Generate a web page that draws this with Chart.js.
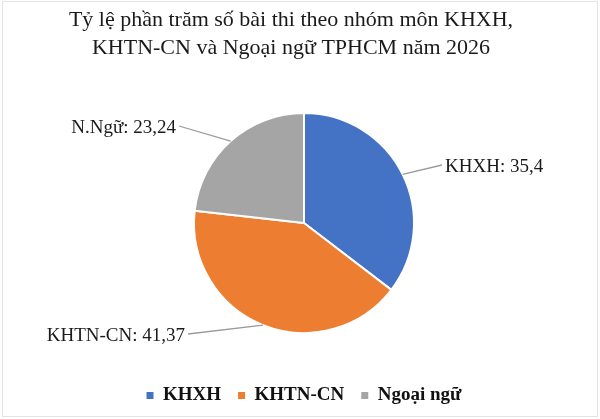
<!DOCTYPE html>
<html>
<head>
<meta charset="utf-8">
<script src="https://cdn.jsdelivr.net/npm/chart.js@4.4.1/dist/chart.umd.min.js"></script>
<style>
  html, body { margin: 0; padding: 0; background: #fff; }
  canvas { display: block; }
</style>
</head>
<body>
<canvas id="pieChart" width="600" height="419"></canvas>
<script>
// Dữ liệu biểu đồ
const titleLines = ['Tỷ lệ phần trăm số bài thi theo nhóm môn KHXH,', 'KHTN-CN và Ngoại ngữ TPHCM năm 2026'];
const categories = ['KHXH', 'KHTN-CN', 'Ngoại ngữ'];
const shortNames = ['KHXH', 'KHTN-CN', 'N.Ngữ'];
const values = [35.4, 41.37, 23.24];
const colors = ['#4472C4', '#ED7D31', '#A5A5A5'];

// vị trí nhãn so với tâm hình tròn (điểm neo ở baseline chữ)
const labelSpots = [
  { dx: 141, dy: -56, align: 'left' },
  { dx: -119, dy: 113, align: 'right' },
  { dx: -128, dy: -95, align: 'right' }
];

const serif = '"Liberation Serif", "Times New Roman", serif';

// nền trắng, khung mờ và tiêu đề
const pageDecor = {
  id: 'pageDecor',
  beforeDraw(chart) {
    const ctx = chart.ctx;
    ctx.save();
    ctx.fillStyle = '#fff';
    ctx.fillRect(0, 0, chart.width, chart.height);
    ctx.strokeStyle = '#e4e4e4';
    ctx.lineWidth = 1;
    ctx.strokeRect(2.5, 1.5, chart.width - 5, chart.height - 4);
    ctx.fillStyle = '#1a1a1a';
    ctx.font = '22px ' + serif;
    ctx.textAlign = 'center';
    ctx.textBaseline = 'alphabetic';
    titleLines.forEach((t, i) => ctx.fillText(t, 291, 26 + i * 28));
    ctx.restore();
  }
};

// nhãn dữ liệu + đường dẫn
const sliceLabels = {
  id: 'sliceLabels',
  afterDatasetsDraw(chart) {
    const ctx = chart.ctx;
    const arcs = chart.getDatasetMeta(0).data;
    ctx.save();
    ctx.font = '19px ' + serif;
    ctx.fillStyle = '#1a1a1a';
    ctx.strokeStyle = '#9a9a9a';
    ctx.lineWidth = 1.3;
    arcs.forEach((arc, i) => {
      const { x, y, startAngle, endAngle, outerRadius } = arc.getProps(['x', 'y', 'startAngle', 'endAngle', 'outerRadius'], true);
      const mid = (startAngle + endAngle) / 2;
      const ex = x + Math.cos(mid) * outerRadius;
      const ey = y + Math.sin(mid) * outerRadius;
      const spot = labelSpots[i];
      const tx = x + spot.dx, ty = y + spot.dy;
      const lx = spot.align === 'left' ? tx - 3 : tx + 3;
      ctx.beginPath();
      ctx.moveTo(ex, ey);
      ctx.lineTo(lx, ty - 2);
      ctx.stroke();
      ctx.textAlign = spot.align;
      ctx.fillText(shortNames[i] + ': ' + String(values[i]).replace('.', ','), tx, ty);
    });
    ctx.restore();
  }
};

new Chart(document.getElementById('pieChart'), {
  type: 'pie',
  data: {
    labels: categories,
    datasets: [{
      data: values,
      backgroundColor: colors,
      borderColor: '#fff',
      borderWidth: 2,
      radius: 110
    }]
  },
  options: {
    responsive: false,
    animation: false,
    layout: { padding: { top: 77, left: 8, right: 0, bottom: 4 } },
    plugins: {
      legend: {
        position: 'bottom',
        labels: {
          boxWidth: 7,
          boxHeight: 7,
          padding: 17,
          color: '#111',
          font: { family: serif, size: 19, weight: 'bold' },
          generateLabels(chart) {
            const items = Chart.overrides.pie.plugins.legend.labels.generateLabels(chart);
            items.forEach(it => { it.lineWidth = 0; it.strokeStyle = it.fillStyle; });
            return items;
          }
        }
      },
      tooltip: { enabled: false }
    }
  },
  plugins: [pageDecor, sliceLabels]
});
</script>
</body>
</html>
